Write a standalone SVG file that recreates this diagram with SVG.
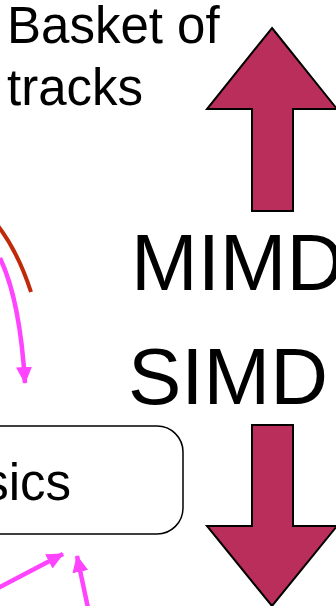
<svg xmlns="http://www.w3.org/2000/svg" width="336" height="606" viewBox="0 0 336 606">
<defs>
<style>
.t{font-family:"Liberation Sans",Arial,sans-serif;fill:#000}
.big{font-size:80px}
.med{font-size:51px}
.bigarrow{fill:#B92E5A;stroke:#000;stroke-width:2;stroke-linejoin:miter}
.mag{fill:none;stroke:#FF44FF;stroke-width:4.5}
</style>
<marker id="mh" markerUnits="userSpaceOnUse" markerWidth="18" markerHeight="18" refX="16" refY="9" orient="auto">
<path d="M0,1 L17,9 L0,17 Z" fill="#FF44FF"/>
</marker>
</defs>
<rect width="336" height="606" fill="#fff"/>
<g id="basket">
<text class="t med" x="7" y="43">Basket of</text>
<text class="t med" x="7" y="105">tracks</text>
</g>
<g id="up-arrow">
<polygon class="bigarrow" points="272,28 337,109 293,109 293,211 252,211 252,109 207,109"/>
</g>
<g id="mimd"><text class="t big" x="131" y="290">MIMD</text></g>
<g id="simd"><text class="t big" x="128" y="404">SIMD</text></g>
<g id="down-arrow">
<polygon class="bigarrow" points="252,425 293,425 293,526 337,526 272,606 207,526 252,526"/>
</g>
<g id="physics">
<rect x="-40" y="426" width="223" height="108" rx="26" ry="26" fill="#fff" stroke="#000" stroke-width="1.5"/>
<text class="t med" x="71" y="500" text-anchor="end">sics</text>
</g>
<g id="connectors">
<path d="M-2,226 Q18,252 31,292" fill="none" stroke="#BF2A0A" stroke-width="4"/>
<path class="mag" d="M0,258 Q20,300 25,383" marker-end="url(#mh)"/>
<path class="mag" d="M-2,588 L63,554" marker-end="url(#mh)"/>
<path class="mag" d="M88,608 L77,556" marker-end="url(#mh)"/>
</g>
</svg>
